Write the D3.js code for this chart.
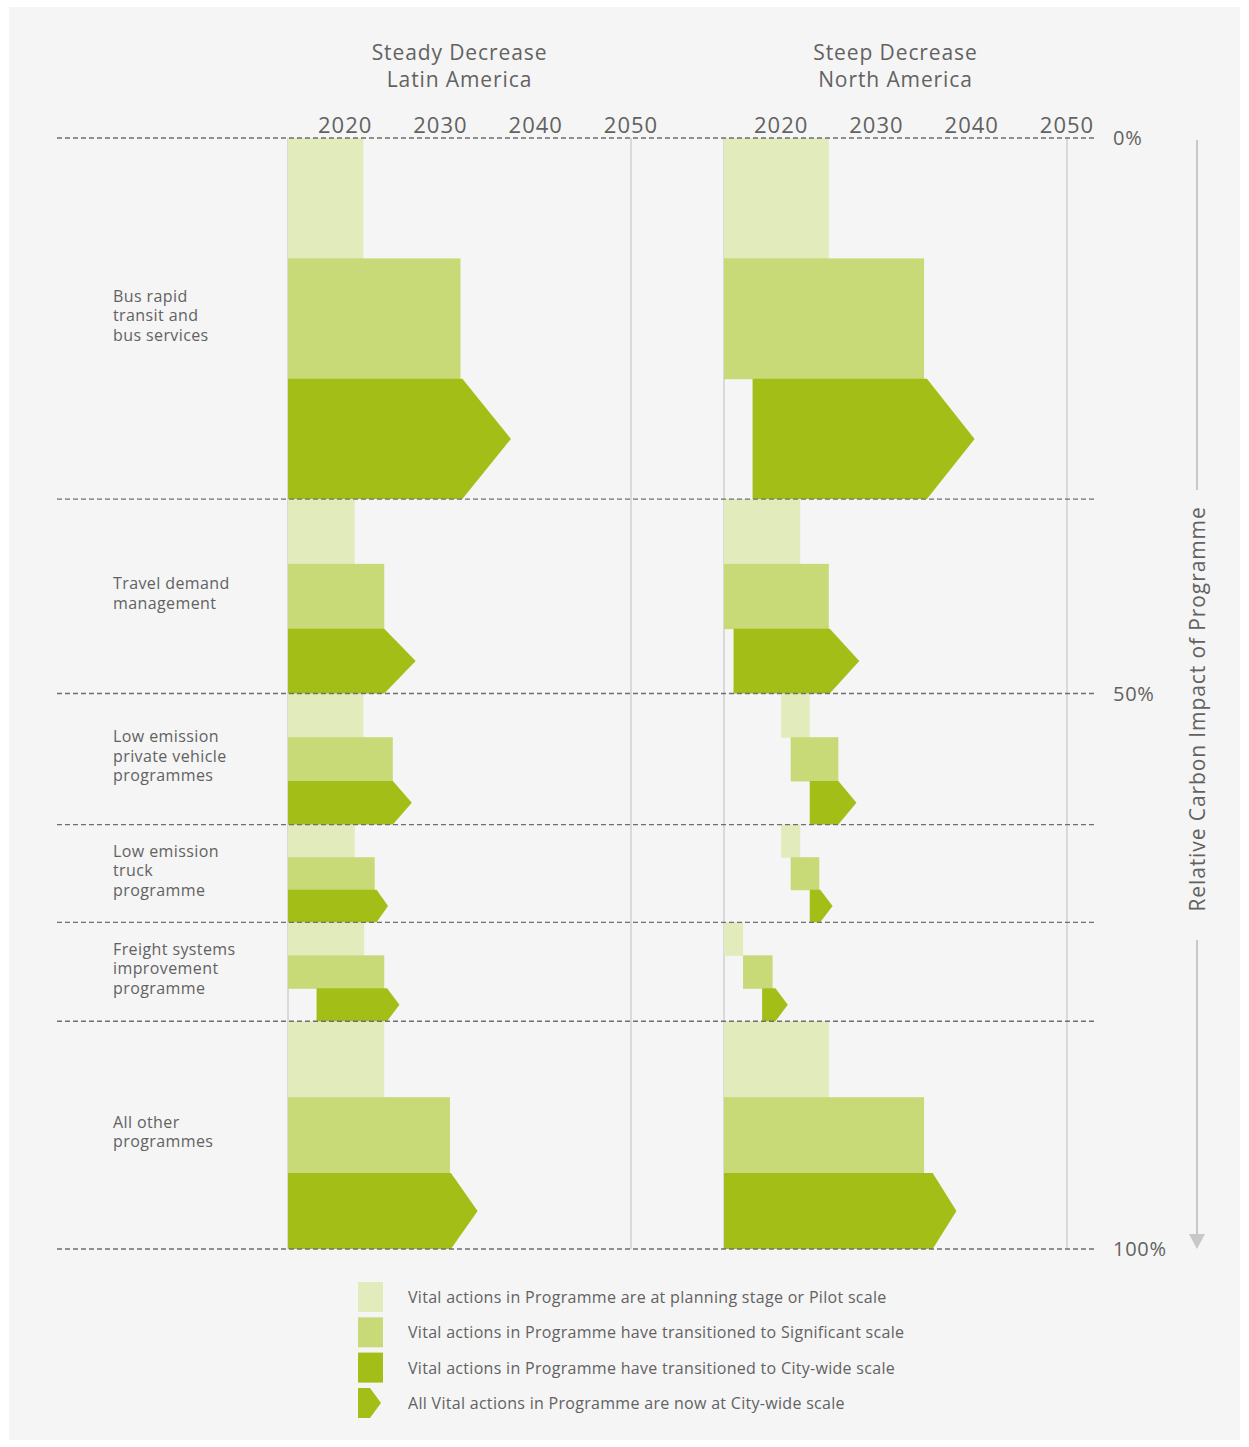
<!DOCTYPE html>
<html>
<head>
<meta charset="utf-8">
<script src="https://cdn.jsdelivr.net/npm/d3@7"></script>
<style>
    body { margin: 0; background: #fff; }
    svg text { font-family: "Open Sans", Lato, sans-serif; fill: #626262; }
</style>
</head>
<body>
<div id="chart"></div>
<script>
(function () {
    "use strict";

    // programme groups and where each ends on the 0-100% impact axis
    const categories = [
        ["Bus rapid", "transit and", "bus services"],
        ["Travel demand", "management"],
        ["Low emission", "private vehicle", "programmes"],
        ["Low emission", "truck", "programme"],
        ["Freight systems", "improvement", "programme"],
        ["All other", "programmes"]
    ];
    const boundaries = [0, 32.5, 50, 61.8, 70.6, 79.5, 100];

    const years = [2020, 2030, 2040, 2050];
    const percentTicks = [0, 50, 100];

    // [start, end] years
    const latinPilot = [[2014, 2021.9], [2014, 2021], [2014, 2021.9], [2014, 2021], [2014, 2022], [2014, 2024.1]];
    const latinSignificant = [[2014, 2032.1], [2014, 2024.1], [2014, 2025], [2014, 2023.1], [2014, 2024.1], [2014, 2031]];
    // [start, body end, arrow tip]
    const latinCityWide = [[2014, 2032.3, 2037.4], [2014, 2024.1, 2027.4], [2014, 2025, 2027], [2014, 2023.3, 2024.5], [2017, 2024.4, 2025.7], [2014, 2031.1, 2033.9]];

    const northPilot = [[2014, 2025], [2014, 2022], [2020, 2023], [2020, 2022], [2014, 2016], [2014, 2025]];
    const northSignificant = [[2014, 2035], [2014, 2025], [2021, 2026], [2021, 2024], [2016, 2019.1], [2014, 2035]];
    const northCityWide = [[2017, 2035.3, 2040.3], [2015, 2025.1, 2028.2], [2023, 2026, 2027.9], [2023, 2024.1, 2025.4], [2018, 2019.4, 2020.7], [2014, 2035.9, 2038.4]];

    const panels = [
        { title: ["Steady Decrease", "Latin America"], pilot: latinPilot, significant: latinSignificant, cityWide: latinCityWide, x0: 288 },
        { title: ["Steep Decrease", "North America"], pilot: northPilot, significant: northSignificant, cityWide: northCityWide, x0: 724 }
    ];

    const legendLabels = [
        "Vital actions in Programme are at planning stage or Pilot scale",
        "Vital actions in Programme have transitioned to Significant scale",
        "Vital actions in Programme have transitioned to City-wide scale",
        "All Vital actions in Programme are now at City-wide scale"
    ];

    const colors = { pilot: "#e2ebbb", significant: "#c8d978", cityWide: "#a3bf17" };

    const width = 1249;
    const height = 1447;
    const panelWidth = 343;

    const svg = d3.select("#chart").append("svg")
        .attr("width", width)
        .attr("height", height);

    svg.append("rect")
        .attr("x", 9)
        .attr("y", 7)
        .attr("width", 1231)
        .attr("height", 1433)
        .attr("fill", "#f5f5f5");

    const yScale = d3.scaleLinear()
        .domain([0, 100])
        .range([138, 1249]);

    // group label text
    categories.forEach(function (lines, i) {
        const mid = (yScale(boundaries[i]) + yScale(boundaries[i + 1])) / 2;
        const lineHeight = 19.5;
        const top = mid - (lines.length - 1) * lineHeight / 2 - 3;
        const text = svg.append("text")
            .attr("x", 113)
            .attr("font-size", 16)
            .attr("letter-spacing", 0.4);
        lines.forEach(function (line, j) {
            text.append("tspan")
                .attr("x", 113)
                .attr("y", top + j * lineHeight)
                .attr("dy", "0.35em")
                .text(line);
        });
    });

    panels.forEach(function (panel) {
        const xScale = d3.scaleLinear()
            .domain([2014, 2050])
            .range([panel.x0, panel.x0 + panelWidth]);

        const g = svg.append("g");

        g.selectAll(".title")
            .data(panel.title)
            .join("text")
            .attr("x", (xScale(2014) + xScale(2050)) / 2)
            .attr("y", (d, i) => 53 + i * 27)
            .attr("dy", "0.35em")
            .attr("text-anchor", "middle")
            .attr("font-size", 21)
            .attr("letter-spacing", 0.9)
            .text(d => d);

        g.selectAll(".year")
            .data(years)
            .join("text")
            .attr("x", d => xScale(d))
            .attr("y", 125)
            .attr("dy", "0.35em")
            .attr("text-anchor", "middle")
            .attr("font-size", 22)
            .attr("letter-spacing", 1)
            .text(d => d);

        g.selectAll(".edge")
            .data([2014, 2050])
            .join("line")
            .attr("x1", d => xScale(d))
            .attr("x2", d => xScale(d))
            .attr("y1", yScale(0))
            .attr("y2", yScale(100))
            .attr("stroke", "#cfcfcf")
            .attr("stroke-width", 1.5);

        function rowBand(i, row) {
            const top = yScale(boundaries[i]);
            const h = (yScale(boundaries[i + 1]) - top) / 3;
            return { y: top + row * h, h: h };
        }

        [["pilot", 0], ["significant", 1]].forEach(function (spec) {
            g.selectAll(".bar-" + spec[0])
                .data(panel[spec[0]])
                .join("rect")
                .attr("x", d => xScale(d[0]))
                .attr("width", d => xScale(d[1]) - xScale(d[0]))
                .attr("y", (d, i) => rowBand(i, spec[1]).y)
                .attr("height", (d, i) => rowBand(i, spec[1]).h + 0.5)
                .attr("fill", colors[spec[0]]);
        });

        g.selectAll(".arrow")
            .data(panel.cityWide)
            .join("path")
            .attr("d", function (d, i) {
                const b = rowBand(i, 2);
                const x1 = xScale(d[0]);
                const x2 = xScale(d[1]);
                const x3 = xScale(d[2]);
                return "M" + x1 + "," + b.y +
                    "L" + x2 + "," + b.y +
                    "L" + x3 + "," + (b.y + b.h / 2) +
                    "L" + x2 + "," + (b.y + b.h) +
                    "L" + x1 + "," + (b.y + b.h) + "Z";
            })
            .attr("fill", colors.cityWide);
    });

    // dashed group dividers
    svg.selectAll(".divider")
        .data(boundaries)
        .join("line")
        .attr("x1", 57)
        .attr("x2", 1095)
        .attr("y1", d => yScale(d))
        .attr("y2", d => yScale(d))
        .attr("stroke", "#6f6f6f")
        .attr("stroke-width", 1.4)
        .attr("stroke-dasharray", "5,3");

    svg.selectAll(".pct")
        .data(percentTicks)
        .join("text")
        .attr("x", 1113)
        .attr("y", d => yScale(d))
        .attr("dy", "0.35em")
        .attr("font-size", 20)
        .attr("letter-spacing", 0.7)
        .text(d => d + "%");

    // right-hand axis with arrow
    const axisX = 1197;
    svg.append("line")
        .attr("x1", axisX).attr("x2", axisX)
        .attr("y1", 140).attr("y2", 490)
        .attr("stroke", "#c8c8c8").attr("stroke-width", 2);
    svg.append("line")
        .attr("x1", axisX).attr("x2", axisX)
        .attr("y1", 940).attr("y2", 1236)
        .attr("stroke", "#c8c8c8").attr("stroke-width", 2);
    svg.append("path")
        .attr("d", "M" + (axisX - 8) + ",1234L" + (axisX + 8) + ",1234L" + axisX + ",1249Z")
        .attr("fill", "#c8c8c8");
    svg.append("text")
        .attr("transform", "translate(" + (axisX + 1) + ",709) rotate(-90)")
        .attr("dy", "0.35em")
        .attr("text-anchor", "middle")
        .attr("font-size", 21)
        .attr("letter-spacing", 0.9)
        .text("Relative Carbon Impact of Programme");

    // legend
    const legend = svg.append("g");
    const legendColors = [colors.pilot, colors.significant, colors.cityWide, colors.cityWide];
    legendLabels.forEach(function (label, i) {
        const y = 1282 + i * 35.3;
        if (i < 3) {
            legend.append("rect")
                .attr("x", 358)
                .attr("y", y)
                .attr("width", 25)
                .attr("height", 30)
                .attr("fill", legendColors[i]);
        } else {
            legend.append("path")
                .attr("d", "M358," + y + "L370," + y + "L381," + (y + 15) + "L370," + (y + 30) + "L358," + (y + 30) + "Z")
                .attr("fill", legendColors[i]);
        }
        legend.append("text")
            .attr("x", 408)
            .attr("y", y + 15.5)
            .attr("dy", "0.35em")
            .attr("font-size", 16)
            .attr("letter-spacing", 0.3)
            .text(label);
    });
}());
</script>
</body>
</html>
